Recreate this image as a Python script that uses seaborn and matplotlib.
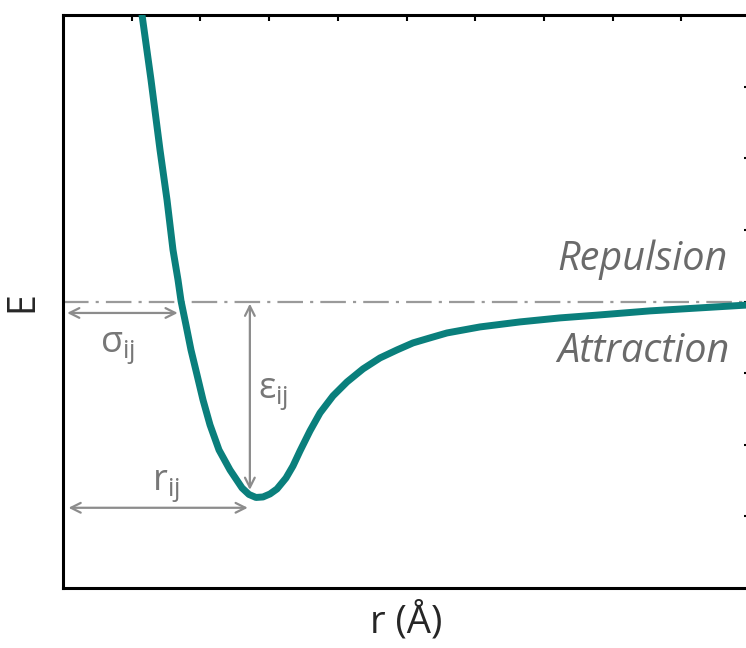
import matplotlib
matplotlib.use("Agg")
import matplotlib.pyplot as plt
import seaborn as sns
import pandas as pd

# curve (x: r in tick units, y: E in tick units, zero level at 4)
r_vals = [1.150, 1.281, 1.412, 1.514, 1.601, 1.674, 1.718, 1.790, 1.863, 1.951, 2.038,
          2.140, 2.271, 2.431, 2.606, 2.707, 2.809, 2.911, 3.013, 3.115, 3.246, 3.348,
          3.450, 3.595, 3.741, 3.930, 4.134, 4.367, 4.614, 4.862, 5.095, 5.342, 5.590,
          6.070, 6.652, 7.234, 7.817, 8.544, 9.272, 10.0]
e_vals = [8.003, 7.095, 6.117, 5.419, 4.721, 4.302, 4.008, 3.673, 3.324, 2.975, 2.626,
          2.277, 1.927, 1.648, 1.397, 1.306, 1.264, 1.271, 1.313, 1.383, 1.536, 1.704,
          1.913, 2.193, 2.444, 2.682, 2.877, 3.059, 3.212, 3.324, 3.422, 3.492, 3.561,
          3.645, 3.715, 3.771, 3.813, 3.869, 3.911, 3.953]
zero_level = 4.0
sigma_r = 1.67
sigma_y = 3.84
eps_r = 2.72
eps_bottom = 1.37
rmin_y = 1.12
rmin_r = 2.69

df = pd.DataFrame({"r": r_vals, "E": e_vals})

sns.set_style("white")
plt.rcParams['font.family'] = ['Open Sans', 'DejaVu Sans']
plt.rcParams['mathtext.fontset'] = 'dejavusans'

fig = plt.figure(figsize=(7.46, 6.48), dpi=100)
ax = fig.add_axes([63 / 746, 60 / 648, 687 / 746, 573 / 648])

gray = '#8c8c8c'
teal = '#0a7f7c'

ax.axhline(zero_level, color='#9a9a9a', lw=1.6, linestyle=(0, (11.5, 3.2, 1.4, 3.2)), zorder=1)
sns.lineplot(data=df, x="r", y="E", color=teal, lw=5.0, ax=ax, sort=False, zorder=3,
             solid_capstyle='round', solid_joinstyle='round')

arrow = dict(arrowstyle='<->,head_length=0.7,head_width=0.35', color=gray, lw=1.6,
             shrinkA=0, shrinkB=0)
ax.annotate('', xy=(sigma_r, sigma_y), xytext=(0.06, sigma_y), arrowprops=arrow)
ax.annotate('', xy=(eps_r, zero_level - 0.03), xytext=(eps_r, eps_bottom), arrowprops=arrow)
ax.annotate('', xy=(rmin_r, rmin_y), xytext=(0.08, rmin_y), arrowprops=arrow)

lab = dict(color='#777777', fontsize=26, va='baseline', ha='left')
ax.text(0.54, 3.30, r'$\mathregular{\sigma_{ij}}$', **lab)
ax.text(2.84, 2.65, r'$\mathregular{\epsilon_{ij}}$', **lab)
ax.text(1.30, 1.37, r'$\mathregular{r_{ij}}$', **lab)

ax.text(9.68, 4.58, 'Repulsion', color='#6a6a6a', fontsize=28.5, style='italic',
        ha='right', va='center')
ax.text(9.70, 3.30, 'Attraction', color='#6a6a6a', fontsize=28.5, style='italic',
        ha='right', va='center')

ax.set_xlim(0, 10)
ax.set_ylim(0, 8)
ax.set_xticks(range(1, 10))
ax.set_yticks(range(1, 8))
ax.tick_params(direction='in', length=4, width=1.5, top=True, right=True,
               labelbottom=False, labelleft=False, color='black')
for s in ax.spines.values():
    s.set_color('black')
    s.set_linewidth(2.2)

ax.set_xlabel('r (Å)', fontsize=27.5)
ax.set_ylabel('E', fontsize=27)
ax.xaxis.set_label_coords(0.5, -0.025)
ax.yaxis.set_label_coords(-0.031, 0.5)

fig.savefig('out.png', dpi=100)
